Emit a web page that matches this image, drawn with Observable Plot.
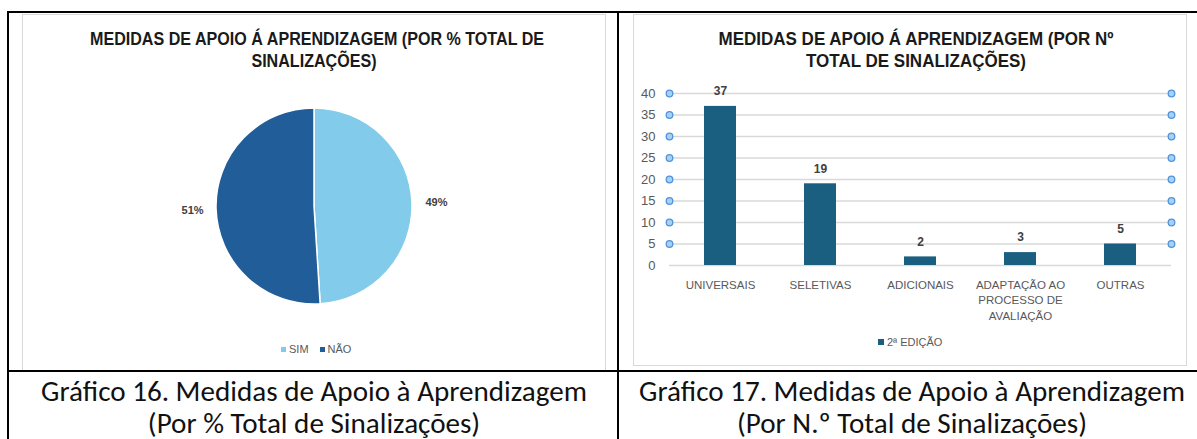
<!DOCTYPE html>
<html>
<head>
<meta charset="utf-8">
<script src="https://cdn.jsdelivr.net/npm/d3@7"></script>
<script src="https://cdn.jsdelivr.net/npm/@observablehq/plot@0.6"></script>
<style>
  html, body { margin: 0; padding: 0; background: #fff; }
  #page { position: relative; width: 1197px; height: 439px; overflow: hidden; background: #fff; }
  .line { position: absolute; background: #000; }
  .panel { position: absolute; border: 1px solid #d9d9d9; box-sizing: border-box; }
  .txt { position: absolute; display: inline-block; white-space: nowrap; transform: translate(-50%, -50%); line-height: 1; transform-origin: 50% 50%; }
  .ttl { font-family: "Liberation Sans Narrow", "Arial Narrow", "Liberation Sans", Arial, sans-serif; font-weight: bold; color: #1a1a1a; font-size: 19px; }
  .cap { font-family: Carlito, Calibri, Lato, "Open Sans", sans-serif; color: #111; font-size: 24px; }
  .leg { position: absolute; font-family: "Liberation Sans Narrow", "Arial Narrow", "Liberation Sans", Arial, sans-serif; font-size: 11px; color: #595959; white-space: nowrap; transform: translateY(-50%); display: flex; align-items: center; }
  .sw { display: inline-block; width: 5px; height: 5px; margin-right: 3px; }
  .plot { position: absolute; }
</style>
</head>
<body>
<div id="page"></div>
<script>
// ---------------- DATA ----------------
const pieCategories = ["SIM", "NÃO"];
const pieValues = [49, 51];
const pieColors = ["#83CBEB", "#215E99"];
const pieTitle = ["MEDIDAS DE APOIO Á APRENDIZAGEM (POR % TOTAL DE", "SINALIZAÇÕES)"];
const pieCaption = ["Gráfico 16. Medidas de Apoio à Aprendizagem", "(Por % Total de Sinalizações)"];

const barCategories = ["UNIVERSAIS", "SELETIVAS", "ADICIONAIS", "ADAPTAÇÃO AO PROCESSO DE AVALIAÇÃO", "OUTRAS"];
const barTickLabels = ["UNIVERSAIS", "SELETIVAS", "ADICIONAIS", "ADAPTAÇÃO AO\nPROCESSO DE\nAVALIAÇÃO", "OUTRAS"];
const barValues = [37, 19, 2, 3, 5];
const barSeries = "2ª EDIÇÃO";
const barColor = "#1A5E80";
const yTicks = [0, 5, 10, 15, 20, 25, 30, 35, 40];
const barTitle = ["MEDIDAS DE APOIO Á APRENDIZAGEM (POR Nº", "TOTAL DE SINALIZAÇÕES)"];
const barCaption = ["Gráfico 17. Medidas de Apoio à Aprendizagem", "(Por N.º Total de Sinalizações)"];

// ---------------- LAYOUT ----------------
const page = document.getElementById("page");
const NARROW = '"Liberation Sans Narrow", "Arial Narrow", "Liberation Sans", Arial, sans-serif';

function box(cls, l, t, w, h) {
  const d = document.createElement("div");
  d.className = cls;
  Object.assign(d.style, {left: l + "px", top: t + "px", width: w + "px", height: h + "px"});
  page.appendChild(d);
  return d;
}
function text(cls, str, cx, cy) {
  const s = document.createElement("span");
  s.className = "txt " + cls;
  s.textContent = str;
  s.style.left = cx + "px";
  s.style.top = cy + "px";
  page.appendChild(s);
  return s;
}
// scale font size so that the element spans the target width
function fit(el, target) {
  const w = el.getBoundingClientRect().width;
  const fs = parseFloat(getComputedStyle(el).fontSize);
  const nfs = fs * target / w;
  el.style.fontSize = nfs + "px";
  return nfs;
}
// squeeze horizontally so that the element spans the target width (narrow font look)
function squeeze(el, target) {
  const w = el.getBoundingClientRect().width;
  const s = Math.min(1, target / w);
  el.style.transform = `translate(-50%, -50%) scaleX(${s})`;
  return s;
}
function squeezeWith(el, s) {
  el.style.transform = `translate(-50%, -50%) scaleX(${s})`;
}

// panels
box("panel", 22, 14, 584, 357);
box("panel", 633, 14, 554, 352);

// table lines
box("line", 7, 11, 1190, 2);
box("line", 7, 11, 2, 428);
box("line", 617, 11, 2, 428);
box("line", 7, 370, 1190, 2);

// ---------------- PIE CHART ----------------
const pieData = pieCategories.map((c, i) => ({category: c, value: pieValues[i], color: pieColors[i]}));
const arcs = d3.pie().sort(null).value(d => d.value)(pieData);
const labelR = 1.245;
const pieLabels = arcs.map(a => {
  const m = (a.startAngle + a.endAngle) / 2;
  return {x: labelR * Math.sin(m), y: labelR * Math.cos(m), text: Math.round(a.data.value) + "%"};
});

function pieMark(index, scales) {
  const sx = scales.x, sy = scales.y;
  const cx = sx(0), cy = sy(0), r = sx(1) - sx(0);
  const g = d3.create("svg:g").attr("transform", `translate(${cx},${cy})`);
  g.selectAll("path")
    .data(arcs)
    .join("path")
    .attr("d", d3.arc().innerRadius(0).outerRadius(r))
    .attr("fill", d => d.data.color)
    .attr("stroke", "#fff")
    .attr("stroke-width", 1.5);
  return g.node();
}

const pie = Plot.plot({
  width: 584,
  height: 357,
  margin: 0,
  style: {background: "transparent", fontFamily: NARROW},
  x: {domain: [-1, 1], range: [292 - 98, 292 + 98], axis: null},
  y: {domain: [-1, 1], range: [192 + 98, 192 - 98], axis: null},
  marks: [
    pieMark,
    Plot.text(pieLabels, {x: "x", y: "y", text: "text", fontSize: 11, fontWeight: "bold", fill: "#404040"})
  ]
});
pie.classList.add("plot");
pie.style.left = "22px";
pie.style.top = "14px";
page.appendChild(pie);

// pie title
const pt1 = text("ttl", pieTitle[0], 317, 38);
const ps = squeeze(pt1, 454);
const pt2 = text("ttl", pieTitle[1], 314, 60);
squeezeWith(pt2, ps);

// pie legend
const pleg = document.createElement("div");
pleg.className = "leg";
pleg.style.left = "281px";
pleg.style.top = "349px";
pleg.innerHTML = pieCategories.map((c, i) =>
  `<span class="sw" style="background:${pieColors[i]}"></span><span style="margin-right:${i < pieCategories.length - 1 ? 11 : 0}px">${c}</span>`).join("");
page.appendChild(pleg);

// ---------------- BAR CHART ----------------
const barData = barCategories.map((c, i) => ({category: c, value: barValues[i], label: barTickLabels[i]}));

const bar = Plot.plot({
  width: 554,
  height: 352,
  marginLeft: 36,
  marginRight: 16,
  marginTop: 79,
  marginBottom: 101,
  style: {background: "transparent", fontFamily: NARROW, fontSize: "13px", color: "#595959"},
  x: {domain: barCategories, paddingInner: 0.68, paddingOuter: 0.34, axis: null},
  y: {domain: [0, 40], ticks: yTicks, tickSize: 0, tickPadding: 14, label: null},
  marks: [
    Plot.ruleY(yTicks, {stroke: "#d9d9d9", strokeWidth: 1.6}),
    Plot.barY(barData, {x: "category", y: "value", fill: barColor}),
    Plot.text(barData, {x: "category", y: "value", text: d => String(d.value), dy: -15, fontSize: 12, fontWeight: "bold", fill: "#404040"}),
    Plot.text(barData, {x: "category", y: d => 0, text: "label", lineAnchor: "top", dy: 12, fontSize: 11.5, lineHeight: 1.35, fill: "#595959"}),
    Plot.dot(yTicks.filter(t => t > 0), {y: d => d, frameAnchor: "left", r: 3.3, fill: "#a8d0f5", stroke: "#4d94dc", strokeWidth: 1.3}),
    Plot.dot(yTicks.filter(t => t > 0), {y: d => d, frameAnchor: "right", r: 3.3, fill: "#a8d0f5", stroke: "#4d94dc", strokeWidth: 1.3})
  ]
});
bar.classList.add("plot");
bar.style.left = "633px";
bar.style.top = "14px";
page.appendChild(bar);

// bar title
const bt1 = text("ttl", barTitle[0], 915.5, 38);
const bs = squeeze(bt1, 395);
const bt2 = text("ttl", barTitle[1], 916, 60);
squeezeWith(bt2, bs);

// bar legend
const bleg = document.createElement("div");
bleg.className = "leg";
bleg.style.left = "878px";
bleg.style.top = "342px";
bleg.innerHTML = `<span class="sw" style="background:${barColor};width:6px;height:6px"></span><span>${barSeries}</span>`;
page.appendChild(bleg);

// ---------------- CAPTIONS ----------------
const c1 = text("cap", pieCaption[0], 314, 392);
const cfs = fit(c1, 546);
const c2 = text("cap", pieCaption[1], 314, 424);
c2.style.fontSize = cfs + "px";
const c3 = text("cap", barCaption[0], 912, 392);
c3.style.fontSize = cfs + "px";
const c4 = text("cap", barCaption[1], 912, 424);
c4.style.fontSize = cfs + "px";
</script>
</body>
</html>
